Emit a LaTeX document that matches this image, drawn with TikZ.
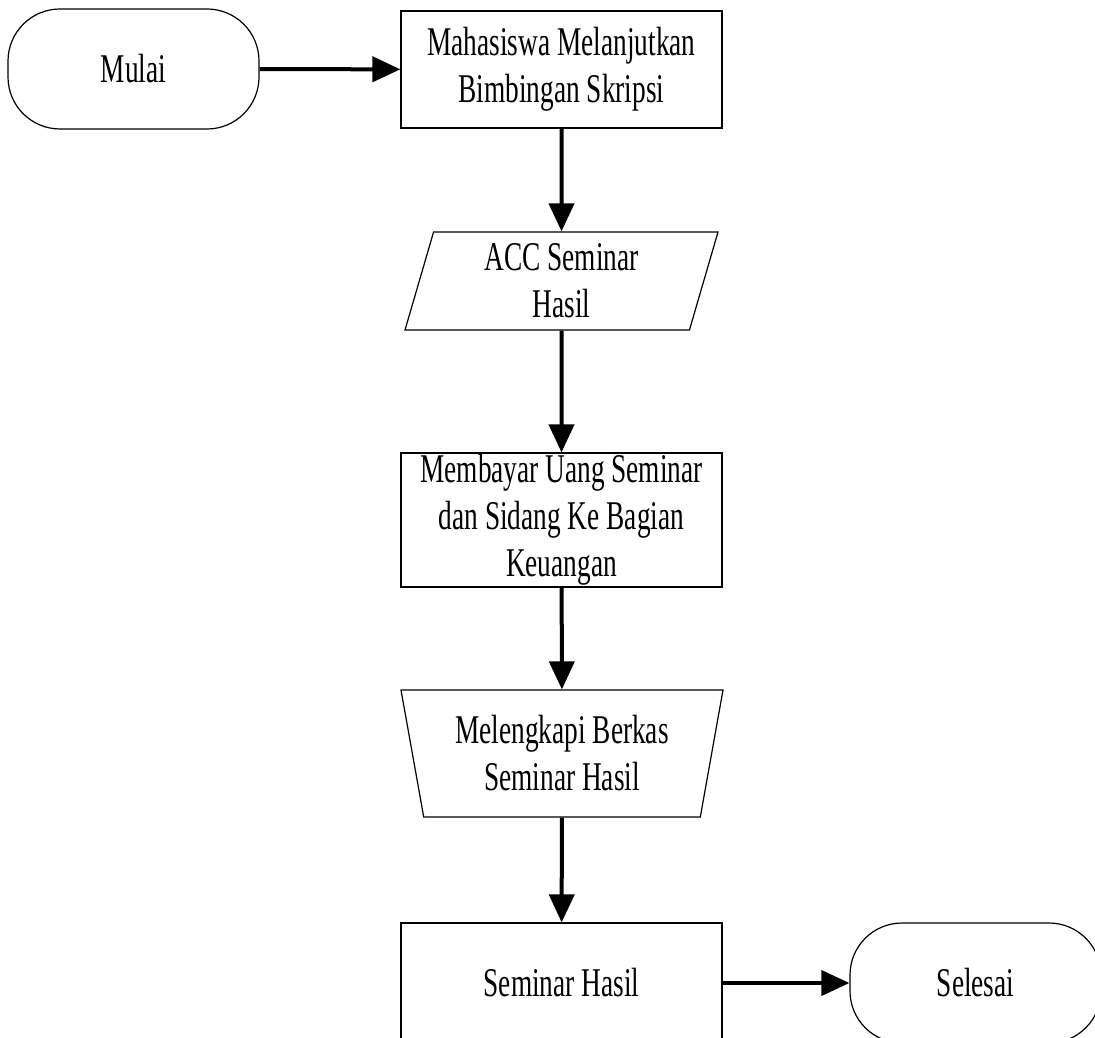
\documentclass[tikz,border=0pt]{standalone}
\usepackage{fontspec}
\setmainfont[FakeStretch=0.67]{Liberation Serif}
\usetikzlibrary{shapes.geometric,arrows.meta}

\begin{document}
\begin{tikzpicture}[x=0.5pt, y=-0.5pt,
    every node/.style={font=\fontsize{20.4pt}{23.5pt}\selectfont, align=center, draw=black, line width=0.6pt, inner sep=0pt},
    terminal/.style={rectangle, rounded corners=26pt, minimum width=125.5pt, minimum height=60pt},
    process/.style={rectangle, minimum width=160.5pt},
    datain/.style={trapezium, trapezium left angle=69, trapezium right angle=111, trapezium stretches body, minimum width=156.5pt, minimum height=49pt},
    manual/.style={trapezium, trapezium left angle=106.7, trapezium right angle=106.7, trapezium stretches body, minimum width=161pt, minimum height=63.5pt},
    flow/.style={line width=2pt, -{Triangle[length=14pt,width=12.5pt]}}]
    \useasboundingbox (0,0) rectangle (1095,1037);
    \clip (0,0) rectangle (1095,1037);

    \node[terminal] (mulai) at (133.5,69) {Mulai};
    \node[process, minimum height=58.5pt] (lanjut) at (561.5,69.5) {Mahasiswa Melanjutkan\\Bimbingan Skripsi};
    \node[datain] (acc) at (561.5,281) {ACC Seminar\\Hasil};
    \node[process, minimum height=67pt] (bayar) at (561.5,520) {Membayar Uang Seminar\\dan Sidang Ke Bagian\\Keuangan};
    \node[manual] (berkas) at (562,753.5) {Melengkapi Berkas\\Seminar Hasil};
    \node[process, minimum height=60pt] (seminar) at (561.5,983) {Seminar Hasil};
    \node[terminal] (selesai) at (975.5,983) {Selesai};

    \draw[flow] (mulai) -- (lanjut);
    \draw[flow] (lanjut) -- (acc);
    \draw[flow] (acc) -- (bayar);
    \draw[flow] (bayar) -- (berkas);
    \draw[flow] (berkas) -- (seminar);
    \draw[flow] (seminar) -- (selesai);
\end{tikzpicture}
\end{document}
